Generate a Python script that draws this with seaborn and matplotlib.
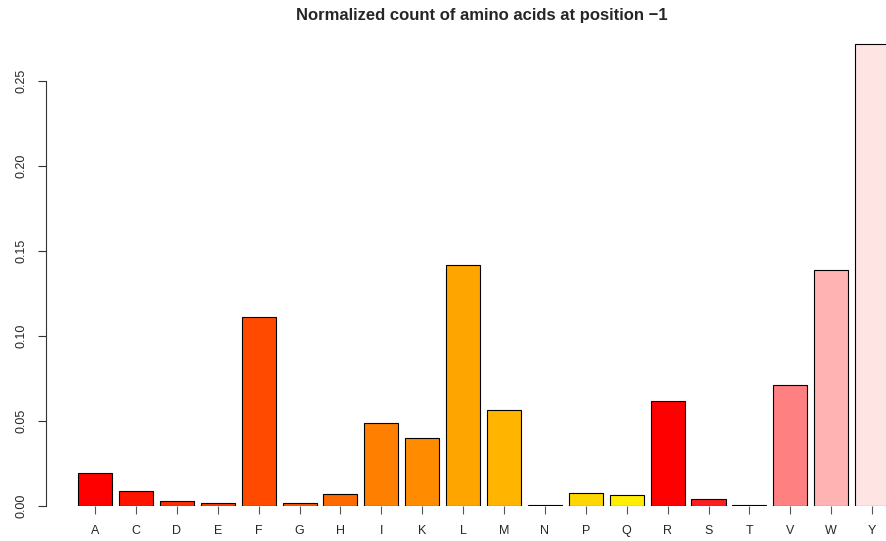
import matplotlib
matplotlib.use("Agg")
import matplotlib.pyplot as plt
import seaborn as sns
import pandas as pd

# data
amino = ["A", "C", "D", "E", "F", "G", "H", "I", "K", "L",
         "M", "N", "P", "Q", "R", "S", "T", "V", "W", "Y"]
norm_count = [0.0194, 0.0088, 0.0030, 0.0020, 0.1110, 0.0020, 0.0070, 0.0490, 0.0402, 0.1418,
              0.0563, 0.0003, 0.0079, 0.0067, 0.0616, 0.0043, 0.0003, 0.0713, 0.1388, 0.2718]
bar_colors = ["#FF0000", "#FF1400", "#FF2E00", "#FF3C00", "#FF4A00", "#FF5500", "#FF6A00",
              "#FF7F00", "#FF8C00", "#FFA500", "#FFB400", "#FFC800", "#FFD700", "#FFEE00",
              "#FF0000", "#FF1E1E", "#FF4040", "#FF8080", "#FFB3B3", "#FFE4E4"]

df = pd.DataFrame({"amino": amino, "count": norm_count})

sns.set_style("white")
plt.rcParams["font.family"] = ["Liberation Sans", "DejaVu Sans"]

fig = plt.figure(figsize=(8.86, 5.41), dpi=100)
ax = fig.add_axes([46 / 886, 35 / 541, 840 / 886, 476 / 541])

sns.barplot(data=df, x="amino", y="count", hue="amino", palette=bar_colors,
            legend=False, width=0.833, edgecolor="black", linewidth=0.8,
            saturation=1, ax=ax)

ax.set_xlim(-1.2, 19.34)
ax.set_ylim(0, 0.28)
ax.set_xlabel("")
ax.set_ylabel("")
ax.set_yticks([0, 0.05, 0.10, 0.15, 0.20, 0.25])
ax.set_yticklabels(["0.00", "0.05", "0.10", "0.15", "0.20", "0.25"],
                   rotation=90, va="center", fontsize=9)
ax.tick_params(axis="y", length=6, width=0.8, color="#333333", pad=7, direction="out", left=True)
ax.tick_params(axis="x", length=5.5, width=0.8, color="#555555", pad=8.5, direction="out",
               labelsize=9, bottom=True)

for s in ["top", "right", "bottom"]:
    ax.spines[s].set_visible(False)
ax.spines["left"].set_bounds(0, 0.25)
ax.spines["left"].set_color("#333333")
ax.spines["left"].set_linewidth(0.8)

fig.text(481.7 / 886, 1 - 15.5 / 541, "Normalized count of amino acids at position \u22121",
         ha="center", va="center", fontsize=12, fontweight="bold")

fig.savefig("out.png", dpi=100)
